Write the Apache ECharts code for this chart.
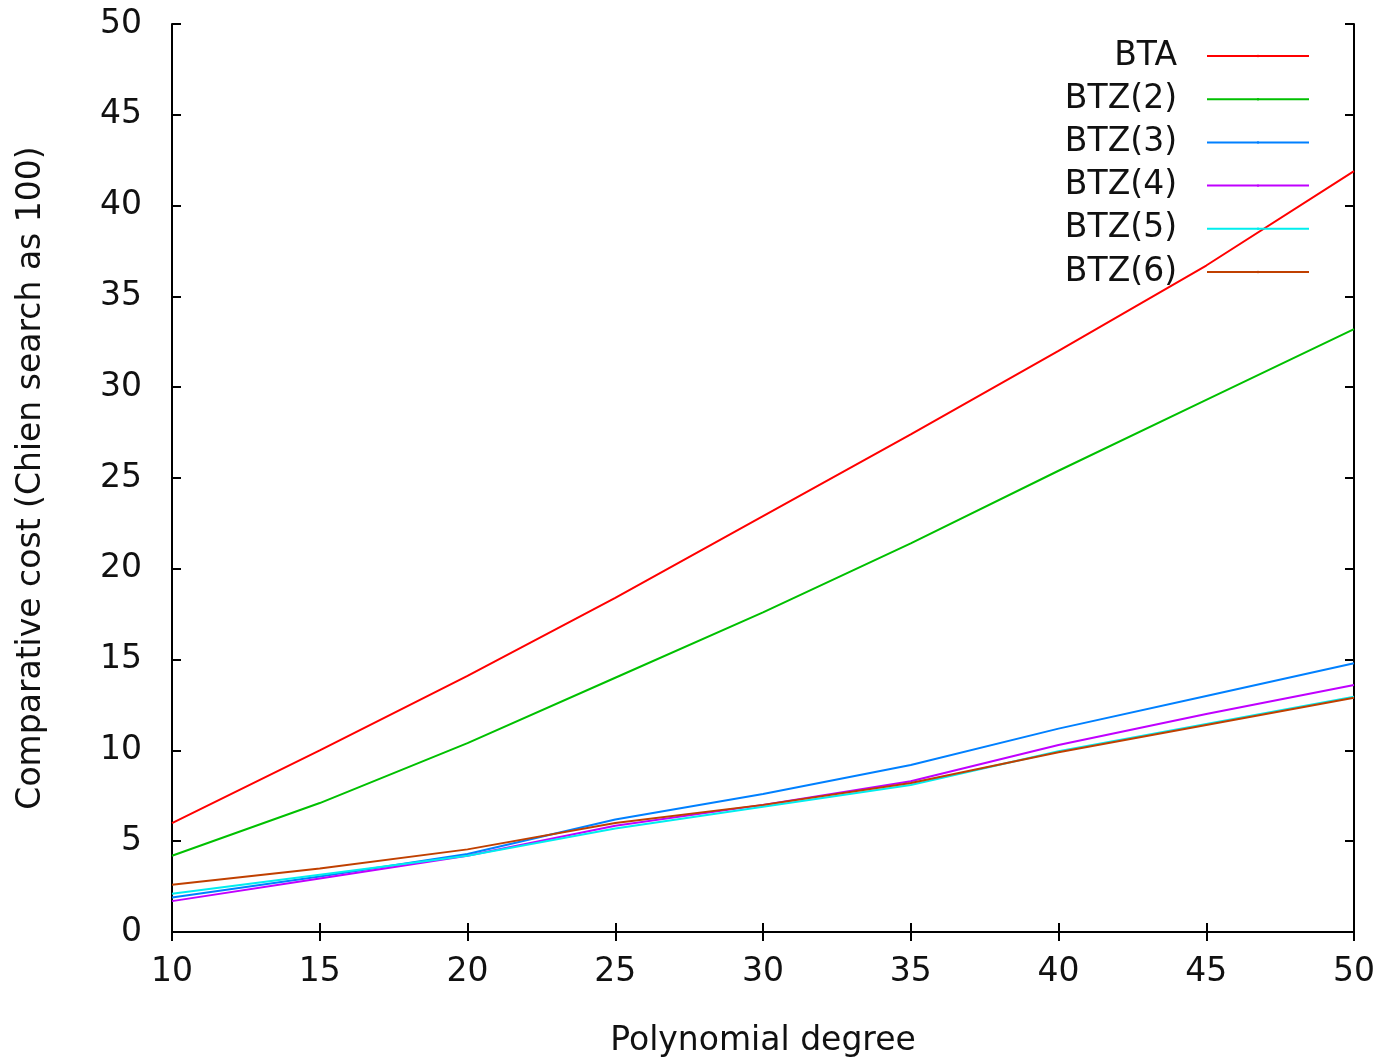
<!DOCTYPE html>
<html>
<head>
<meta charset="utf-8">
<script src="https://cdn.jsdelivr.net/npm/echarts@6/dist/echarts.min.js"></script>
<style>
html,body{margin:0;padding:0;background:#fff;}
#chart{width:1379px;height:1058px;}
</style>
</head>
<body>
<div id="chart"></div>
<script>
// 数据
var degrees = [10, 15, 20, 25, 30, 35, 40, 45, 50];
var seriesNames = ['BTA', 'BTZ(2)', 'BTZ(3)', 'BTZ(4)', 'BTZ(5)', 'BTZ(6)'];
var bta  = [6.0, 10.0, 14.1, 18.4, 22.9, 27.4, 32.0, 36.7, 41.9];
var btz2 = [4.2, 7.1, 10.4, 14.0, 17.6, 21.4, 25.4, 29.3, 33.2];
var btz3 = [1.9, 3.05, 4.3, 6.2, 7.6, 9.2, 11.2, 13.0, 14.8];
var btz4 = [1.7, 2.95, 4.2, 5.85, 7.0, 8.3, 10.3, 12.0, 13.6];
var btz5 = [2.1, 3.15, 4.2, 5.7, 6.9, 8.1, 9.95, 11.45, 12.95];
var btz6 = [2.6, 3.5, 4.55, 6.0, 7.0, 8.2, 9.9, 11.4, 12.9];
var xTicks = [10, 15, 20, 25, 30, 35, 40, 45, 50];
var yTicks = [0, 5, 10, 15, 20, 25, 30, 35, 40, 45, 50];

var values = [bta, btz2, btz3, btz4, btz5, btz6];
var colors = ['#ff0000', '#00c000', '#0080ff', '#c000ff', '#00eeee', '#c04000'];

var font = 'DejaVu Sans';
var fsize = 33;
var txtColor = '#111';

function pairs(arr) {
    var out = [];
    for (var i = 0; i < degrees.length; i++) {
        out.push([degrees[i], arr[i]]);
    }
    return out;
}

var series = [];
var legends = [];
for (var i = 0; i < seriesNames.length; i++) {
    series.push({
        name: seriesNames[i],
        type: 'line',
        symbol: 'none',
        smooth: false,
        animation: false,
        data: pairs(values[i]),
        lineStyle: { color: colors[i], width: 2 },
        itemStyle: { color: colors[i] }
    });
    // 每个图例单独放, 文字右对齐
    legends.push({
        data: [seriesNames[i]],
        right: 64,
        top: 34.5 + i * 43.2,
        align: 'right',
        itemWidth: 102,
        itemHeight: 3,
        selectedMode: false,
        textStyle: {
            fontFamily: font,
            fontSize: fsize,
            color: txtColor,
            padding: [0, 25, 0, 0]
        }
    });
}

var chart = echarts.init(document.getElementById('chart'));
var option = {
    backgroundColor: '#fff',
    animation: false,
    grid: {
        left: 172,
        right: 25,
        top: 24,
        bottom: 126,
        outerBoundsMode: 'none'
    },
    legend: legends,
    xAxis: [{
        type: 'value',
        min: 10,
        max: 50,
        interval: 5,
        name: 'Polynomial degree',
        nameLocation: 'middle',
        nameGap: 93,
        nameTextStyle: { fontFamily: font, fontSize: fsize, color: txtColor },
        axisLine: { show: true, lineStyle: { color: '#000', width: 2 } },
        axisTick: { show: true, inside: true, length: 9, lineStyle: { color: '#000', width: 2 } },
        axisLabel: {
            fontFamily: font, fontSize: fsize, color: txtColor, margin: 24,
            formatter: function (v) { return xTicks.indexOf(v) >= 0 ? String(v) : ''; }
        },
        splitLine: { show: false }
    }, {
        type: 'value',
        position: 'top',
        min: 10,
        max: 50,
        interval: 5,
        axisLine: { show: true, lineStyle: { color: '#000', width: 2 } },
        axisTick: { show: true, inside: true, length: 9, lineStyle: { color: '#000', width: 2 } },
        axisLabel: { show: false },
        splitLine: { show: false }
    }],
    yAxis: [{
        type: 'value',
        min: 0,
        max: 50,
        interval: 5,
        name: 'Comparative cost (Chien search as 100)',
        nameLocation: 'middle',
        nameGap: 124,
        nameTextStyle: { fontFamily: font, fontSize: fsize, color: txtColor },
        axisLine: { show: true, lineStyle: { color: '#000', width: 2 } },
        axisTick: { show: true, inside: true, length: 9, lineStyle: { color: '#000', width: 2 } },
        axisLabel: {
            fontFamily: font, fontSize: fsize, color: txtColor, margin: 30,
            formatter: function (v) { return yTicks.indexOf(v) >= 0 ? String(v) : ''; }
        },
        splitLine: { show: false }
    }, {
        type: 'value',
        position: 'right',
        min: 0,
        max: 50,
        interval: 5,
        axisLine: { show: true, lineStyle: { color: '#000', width: 2 } },
        axisTick: { show: true, inside: true, length: 9, lineStyle: { color: '#000', width: 2 } },
        axisLabel: { show: false },
        splitLine: { show: false }
    }],
    series: series
};
chart.setOption(option);

window.onresize = function () {
    chart.resize();
};
</script>
</body>
</html>
